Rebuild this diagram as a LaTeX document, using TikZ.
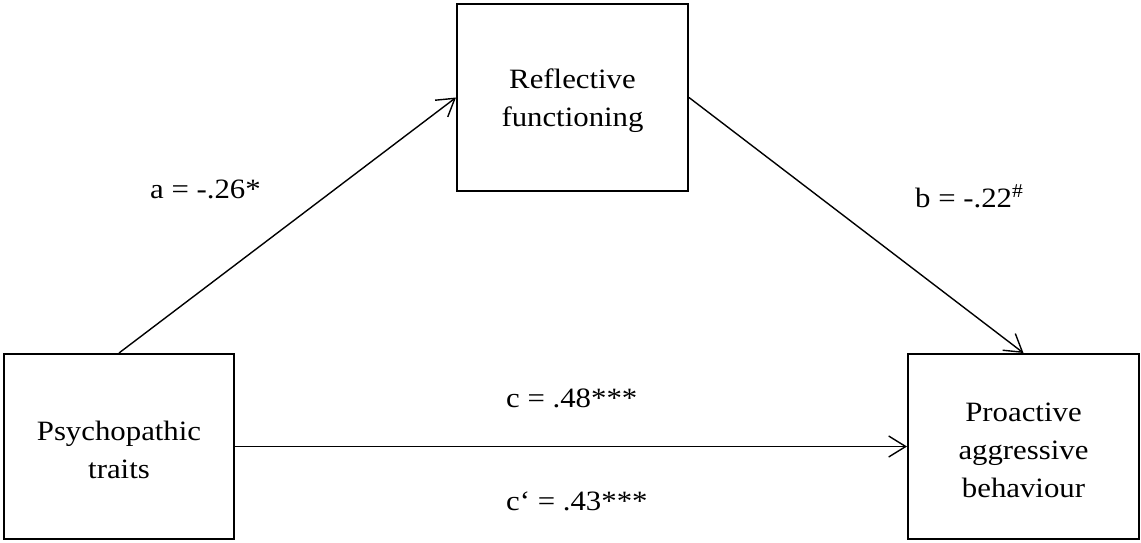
\documentclass[tikz,border=0pt]{standalone}
\usepackage{fontspec}
\setmainfont{Liberation Serif}[FakeStretch=1.1]
\usetikzlibrary{arrows.meta}
% tall first-line strut, lowers the box text slightly
\newcommand{\toprow}{\rule{0pt}{27pt}}
\begin{document}
\begin{tikzpicture}[x=1pt,y=-1pt,
  varbox/.style={draw, line width=2pt, align=center,
    font=\fontsize{28}{38}\selectfont, inner sep=0pt},
  path/.style={line width=1.4pt, -{Straight Barb[length=17pt,width=21pt,line width=1.4pt]}},
  coef/.style={anchor=base west, inner sep=0pt, font=\fontsize{28}{34}\selectfont}]
  \useasboundingbox (0,0) rectangle (1141,542);
  % variables
  \node[varbox, minimum width=230pt, minimum height=185pt] (psy) at (119,446.5)
    {\toprow Psychopathic\\traits};
  \node[varbox, minimum width=231pt, minimum height=187pt] (rf) at (572.5,97.5)
    {\toprow Reflective\\functioning\smash{\vphantom{g}}};
  \node[varbox, minimum width=231pt, minimum height=185pt] (pab) at (1023.5,446.5)
    {\toprow Proactive\\aggressive\\behaviour};
  % paths
  \draw[path] (psy.north) -- (rf.west);
  \draw[path] (rf.east) -- (pab.north);
  \draw[path] (psy.east) -- (pab.west);
  % coefficients
  \node[coef] (a) at (150,198) {a = -.26*};
  \node[coef] (b) at (915,207) {b = -.22\textsuperscript{\#}};
  \node[coef] (c) at (506,407) {c = .48***};
  \node[coef] (cp) at (506,510) {c‘ = .43***};
\end{tikzpicture}
\end{document}
